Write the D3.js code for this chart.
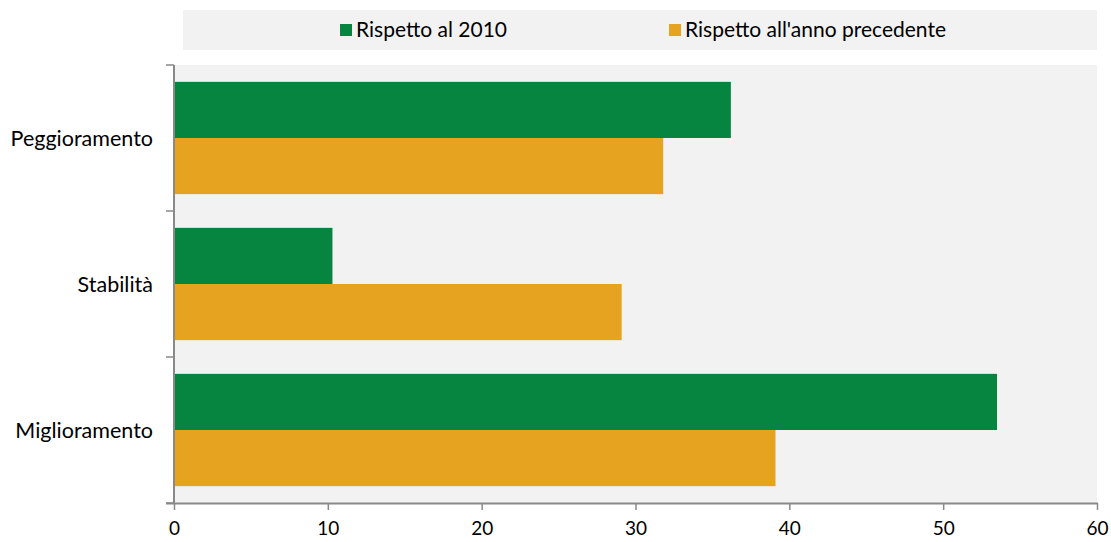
<!DOCTYPE html>
<html><head><meta charset="utf-8">
<script src="https://cdn.jsdelivr.net/npm/d3@7"></script>
<style>body{margin:0;background:#fff;} svg{display:block;font-family:Lato, "Open Sans", sans-serif;}</style>
</head><body><svg id="c" width="1111" height="542"></svg>
<script>
const categories = ["Peggioramento", "Stabilità", "Miglioramento"];
const seriesNames = ["Rispetto al 2010", "Rispetto all'anno precedente"];
const rispetto2010 = [36.2, 10.3, 53.5];
const rispettoPrec = [31.8, 29.1, 39.1];
const xTicks = [0, 10, 20, 30, 40, 50, 60];
const colors = ["#058540", "#e5a320"];

const svg = d3.select("#c");
const m = {left:174, right:1097, top:65, bottom:503};
const x = d3.scaleLinear().domain([0,60]).range([m.left, m.right]);
const y = d3.scaleBand().domain(categories).range([m.top, m.bottom]).paddingInner(0).paddingOuter(0);
const inner = d3.scaleBand().domain([0,1]).range([0, y.bandwidth()]).paddingOuter(0.30).paddingInner(0);

// legend box
svg.append("rect").attr("x",183).attr("y",10).attr("width",914).attr("height",40).attr("fill","#f2f2f2");
const legX = [340, 669];
seriesNames.forEach((n,i)=>{
  svg.append("rect").attr("x",legX[i]).attr("y",24).attr("width",12).attr("height",12).attr("fill",colors[i]);
  svg.append("text").attr("x",legX[i]+16).attr("y",37).attr("font-size",21).attr("fill","#000").text(n);
});

// plot background
svg.append("rect").attr("x",m.left).attr("y",m.top).attr("width",m.right-m.left).attr("height",m.bottom-m.top).attr("fill","#f2f2f2");

const data = categories.map((c,i)=>({c, v:[rispetto2010[i], rispettoPrec[i]]}));
const g = svg.append("g");
data.forEach(d=>{
  d.v.forEach((v,j)=>{
    g.append("rect").attr("x",x(0)).attr("y",y(d.c)+inner(j)).attr("width",x(v)-x(0)).attr("height",inner.bandwidth()).attr("fill",colors[j]);
  });
});

// x axis
const xa = svg.append("g").attr("transform",`translate(0,${m.bottom})`)
  .call(d3.axisBottom(x).tickValues(xTicks).tickSize(7).tickPadding(12).tickFormat(d3.format("d")));
xa.select(".domain").attr("stroke","#898989").attr("stroke-width",2).attr("d",`M${m.left-8},0.5H${m.right+1}`);
xa.selectAll(".tick line").attr("stroke","#898989").attr("stroke-width",1.5);
xa.selectAll("text").attr("font-size",19).attr("fill","#000").attr("font-family","Lato, 'Open Sans', sans-serif");

// y axis
const ya = svg.append("g").attr("transform",`translate(${m.left},0)`);
ya.append("line").attr("x1",0).attr("x2",0).attr("y1",m.top).attr("y2",m.bottom).attr("stroke","#898989").attr("stroke-width",2);
const yTickPos = categories.map(c=>y(c)).concat([m.bottom]);
yTickPos.forEach(p=>{
  ya.append("line").attr("x1",-8).attr("x2",0).attr("y1",p).attr("y2",p).attr("stroke","#898989").attr("stroke-width",1.5);
});
categories.forEach(c=>{
  ya.append("text").attr("x",-21).attr("y",y(c)+y.bandwidth()/2).attr("dy","0.35em").attr("text-anchor","end").attr("font-size",21.5).attr("fill","#000").text(c);
});
</script></body></html>
